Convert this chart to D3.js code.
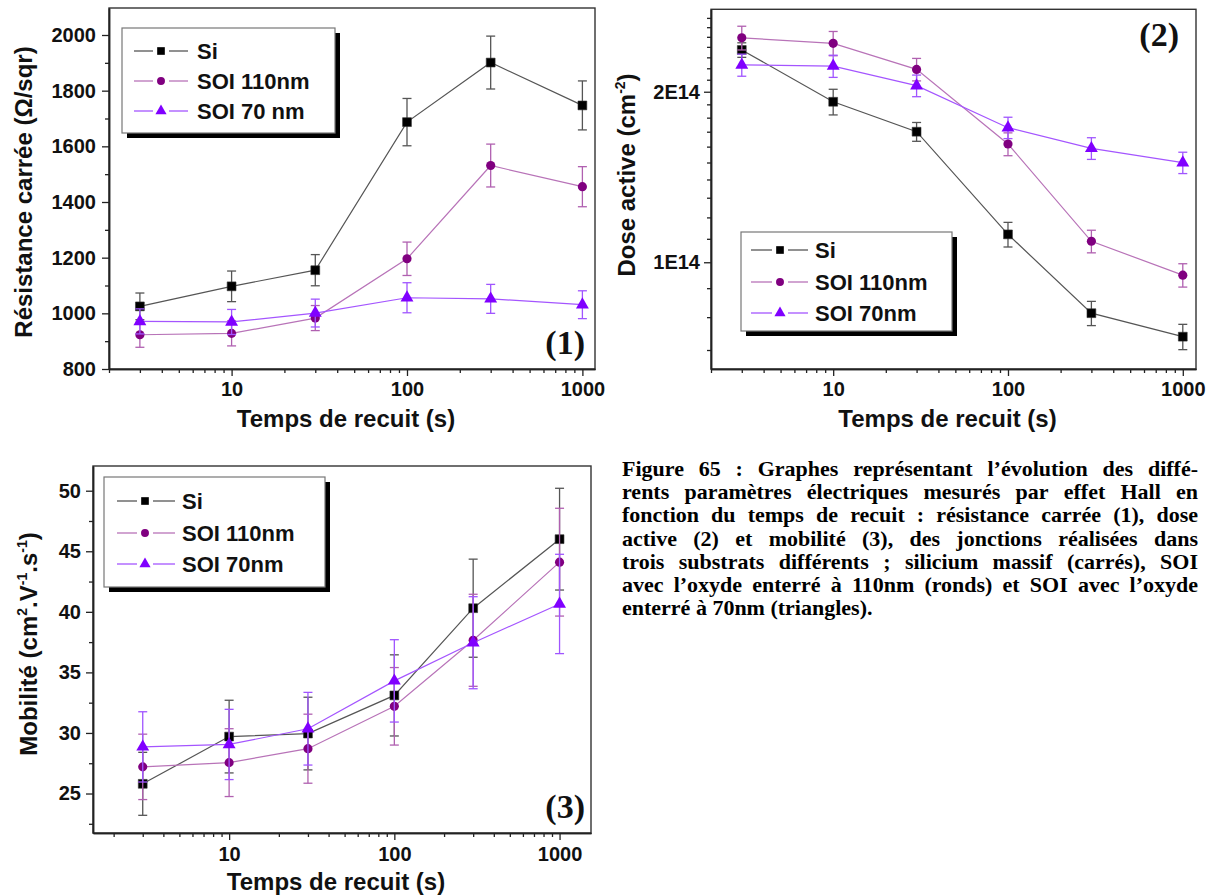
<!DOCTYPE html>
<html><head><meta charset="utf-8">
<script src="https://cdn.jsdelivr.net/npm/d3@7"></script>
<style>body{margin:0;background:#fff;} svg{display:block;}</style>
</head><body>
<svg id="c" width="1215" height="895"></svg>
<script>
// ---------------- DATA ----------------
const times = [3, 10, 30, 100, 300, 1000];
const xMajorTicks = [10, 100, 1000];
const xTickLabels = ["10", "100", "1000"];
const xMinorTicks = [2,3,4,5,6,7,8,9,20,30,40,50,60,70,80,90,200,300,400,500,600,700,800,900];

const legendLabels1 = ["Si", "SOI 110nm", "SOI 70 nm"];
const legendLabels23 = ["Si", "SOI 110nm", "SOI 70nm"];

// Panel 1 : résistance carrée (Ohm/sqr)
const rsSi = [1025, 1097, 1155, 1687, 1901, 1747];
const rsSiErr = [48, 55, 56, 85, 95, 88];
const rsSoi110 = [923, 928, 983, 1196, 1531, 1455];
const rsSoi110Err = [45, 45, 45, 60, 77, 72];
const rsSoi70 = [971, 969, 1001, 1056, 1052, 1031];
const rsSoi70Err = [45, 45, 50, 54, 52, 50];
const p1YTicks = [800, 1000, 1200, 1400, 1600, 1800, 2000];
const p1YMinor = [900, 1100, 1300, 1500, 1700, 1900];

// Panel 2 : dose active (cm-2)
const doseSi = [2.37e14, 1.92e14, 1.70e14, 1.12e14, 0.813e14, 0.739e14];
const doseSiErr = [0.07e14, 0.10e14, 0.065e14, 0.056e14, 0.04e14, 0.038e14];
const doseSoi110 = [2.49e14, 2.435e14, 2.19e14, 1.617e14, 1.089e14, 0.949e14];
const doseSoi110Err = [0.12e14, 0.12e14, 0.10e14, 0.075e14, 0.05e14, 0.045e14];
const doseSoi70 = [2.23e14, 2.22e14, 2.05e14, 1.728e14, 1.589e14, 1.499e14];
const doseSoi70Err = [0.10e14, 0.10e14, 0.09e14, 0.075e14, 0.07e14, 0.065e14];
const p2YTicks = [1e14, 2e14];
const p2YTickLabels = ["1E14", "2E14"];
const p2YMinor = [0.7e14,0.8e14,0.9e14,1.1e14,1.2e14,1.3e14,1.4e14,1.5e14,1.6e14,1.7e14,1.8e14,1.9e14,2.1e14,2.2e14,2.3e14,2.4e14,2.5e14,2.6e14,2.7e14];

// Panel 3 : mobilité (cm2.V-1.s-1)
const muSi = [25.8, 29.7, 29.95, 33.1, 40.3, 46.0];
const muSiErr = [2.6, 3.0, 3.0, 3.35, 4.05, 4.2];
const muSoi110 = [27.2, 27.55, 28.7, 32.2, 37.65, 44.1];
const muSoi110Err = [2.7, 2.8, 2.85, 3.2, 3.8, 4.45];
const muSoi70 = [28.85, 29.05, 30.35, 34.3, 37.45, 40.65];
const muSoi70Err = [2.9, 2.9, 3.0, 3.4, 3.8, 4.1];
const p3YTicks = [25, 30, 35, 40, 45, 50];
const p3YMinor = [22.5, 27.5, 32.5, 37.5, 42.5, 47.5];

const captionLines = [
  "Figure 65 : Graphes représentant l’évolution des diffé-",
  "rents paramètres électriques mesurés par effet Hall en",
  "fonction du temps de recuit : résistance carrée (1), dose",
  "active (2) et mobilité (3), des jonctions réalisées dans",
  "trois substrats différents ; silicium massif (carrés), SOI",
  "avec l’oxyde enterré à 110nm (ronds) et SOI avec l’oxyde",
  "enterré à 70nm (triangles)."
];

// ---------------- DRAWING ----------------
const svg = d3.select("#c");
const SANS = "'Liberation Sans', Arial, Helvetica, sans-serif";
const SERIF = "'Liberation Serif', 'Times New Roman', serif";

const styles = [
  {line: "#555555", mark: "#000000", err: "#555555", sym: d3.symbolSquare, size: 78},
  {line: "#b873b8", mark: "#800080", err: "#b060b0", sym: d3.symbolCircle, size: 66},
  {line: "#a455ff", mark: "#8000ff", err: "#a055ff", sym: d3.symbolTriangle, size: 72}
];

function styleAxis(sel, fontSize) {
  sel.select(".domain").attr("stroke", "#222").attr("stroke-width", 1.5);
  sel.selectAll(".tick line").attr("stroke", "#222").attr("stroke-width", 1.3);
  sel.selectAll(".tick text").attr("font-family", SANS).attr("font-weight", "bold")
     .attr("font-size", fontSize).attr("fill", "#111");
}

function panel(cfg) {
  const g = svg.append("g");
  const x = d3.scaleLog().domain(cfg.xDomain).range([cfg.left, cfg.right]);
  const y = (cfg.yLog ? d3.scaleLog() : d3.scaleLinear()).domain(cfg.yDomain).range([cfg.bottom, cfg.top]);

  g.append("rect").attr("x", cfg.left).attr("y", cfg.top)
    .attr("width", cfg.right - cfg.left).attr("height", cfg.bottom - cfg.top)
    .attr("fill", "none").attr("stroke", "#333").attr("stroke-width", 1.4);

  const xm = g.append("g").attr("transform", `translate(0,${cfg.bottom})`)
    .call(d3.axisBottom(x).tickValues(xMinorTicks.filter(v => v >= cfg.xDomain[0] && v <= cfg.xDomain[1]))
      .tickSize(4).tickFormat("").tickSizeOuter(0));
  styleAxis(xm, 20);
  const xa = g.append("g").attr("transform", `translate(0,${cfg.bottom})`)
    .call(d3.axisBottom(x).tickValues(xMajorTicks).tickSize(7).tickPadding(cfg.xPad)
      .tickFormat((d, i) => xTickLabels[i]).tickSizeOuter(0));
  styleAxis(xa, 20);

  const ym = g.append("g").attr("transform", `translate(${cfg.left},0)`)
    .call(d3.axisLeft(y).tickValues(cfg.yMinor).tickSize(4).tickFormat("").tickSizeOuter(0));
  styleAxis(ym, 20);
  const ya = g.append("g").attr("transform", `translate(${cfg.left},0)`)
    .call(d3.axisLeft(y).tickValues(cfg.yTicks).tickSize(7).tickPadding(cfg.yPad)
      .tickFormat((d, i) => cfg.yLabels ? cfg.yLabels[i] : String(d)).tickSizeOuter(0));
  styleAxis(ya, 20);

  g.append("text").attr("x", (cfg.left + cfg.right) / 2 - 6).attr("y", cfg.xTitleY)
    .attr("text-anchor", "middle").attr("font-family", SANS).attr("font-weight", "bold")
    .attr("font-size", 24).attr("fill", "#111").text("Temps de recuit (s)");
  const yt = g.append("text")
    .attr("transform", `translate(${cfg.yTitleX},${cfg.yTitleY}) rotate(-90)`)
    .attr("text-anchor", "middle").attr("font-family", SANS).attr("font-weight", "bold")
    .attr("font-size", 24).attr("fill", "#111");
  cfg.yTitle.forEach(part => {
    const t = yt.append("tspan").text(part.t);
    if (part.sup) t.attr("font-size", 14).attr("dy", -10);
    else if (part.after) t.attr("dy", 10);
  });

  cfg.series.forEach((s, k) => {
    const st = styles[k];
    const pts = times.map((t, i) => ({t, v: s.v[i], e: s.e[i]}));
    const eb = g.append("g").attr("stroke", st.err).attr("stroke-width", 1.3);
    pts.forEach(p => {
      const xx = x(p.t), y1 = y(p.v - p.e), y2 = y(p.v + p.e);
      eb.append("line").attr("x1", xx).attr("x2", xx).attr("y1", y1).attr("y2", y2);
      eb.append("line").attr("x1", xx - 4.5).attr("x2", xx + 4.5).attr("y1", y1).attr("y2", y1);
      eb.append("line").attr("x1", xx - 4.5).attr("x2", xx + 4.5).attr("y1", y2).attr("y2", y2);
    });
    g.append("path").datum(pts)
      .attr("d", d3.line().x(d => x(d.t)).y(d => y(d.v)))
      .attr("fill", "none").attr("stroke", st.line).attr("stroke-width", 1.2);
    g.selectAll(null).data(pts).enter().append("path")
      .attr("transform", d => `translate(${x(d.t)},${y(d.v)})`)
      .attr("d", d3.symbol().type(st.sym).size(st.size))
      .attr("fill", st.mark).attr("stroke", k === 0 ? "#333" : "none").attr("stroke-width", 0.6);
  });

  const L = cfg.legend;
  g.append("rect").attr("x", L.x + 5).attr("y", L.y + 5).attr("width", L.w).attr("height", L.h).attr("fill", "#000");
  g.append("rect").attr("x", L.x).attr("y", L.y).attr("width", L.w).attr("height", L.h)
    .attr("fill", "#fff").attr("stroke", "#777").attr("stroke-width", 1.2);
  cfg.legendLabels.forEach((lab, k) => {
    const st = styles[k];
    const ry = L.rows[k];
    g.append("line").attr("x1", L.lx1).attr("x2", L.mx - 8).attr("y1", ry).attr("y2", ry).attr("stroke", st.line).attr("stroke-width", 1.3);
    g.append("line").attr("x1", L.mx + 8).attr("x2", L.lx2).attr("y1", ry).attr("y2", ry).attr("stroke", st.line).attr("stroke-width", 1.3);
    g.append("path").attr("transform", `translate(${L.mx},${ry})`)
      .attr("d", d3.symbol().type(st.sym).size(st.size * 0.75)).attr("fill", st.mark);
    g.append("text").attr("x", L.tx).attr("y", ry).attr("dy", "0.36em")
      .attr("font-family", SANS).attr("font-weight", "bold").attr("font-size", 22).attr("fill", "#111").text(lab);
  });

  g.append("text").attr("x", cfg.num.x).attr("y", cfg.num.y).attr("text-anchor", "end")
    .attr("font-family", SERIF).attr("font-weight", "bold").attr("font-size", 34).attr("fill", "#111")
    .text(cfg.num.t);
}

panel({
  left: 109, right: 595, top: 8, bottom: 369,
  xDomain: [2, 1180], yDomain: [800, 2097], yLog: false,
  yTicks: p1YTicks, yMinor: p1YMinor, yPad: 6, xPad: 6,
  xTitleY: 427, yTitleX: 32, yTitleY: 192,
  yTitle: [{t: "Résistance carrée (Ω/sqr)"}],
  series: [{v: rsSi, e: rsSiErr}, {v: rsSoi110, e: rsSoi110Err}, {v: rsSoi70, e: rsSoi70Err}],
  legendLabels: legendLabels1,
  legend: {x: 122, y: 28, w: 213, h: 105, rows: [51, 81, 111], lx1: 134, lx2: 188, mx: 161, tx: 197},
  num: {t: "(1)", x: 585, y: 354}
});

panel({
  left: 711, right: 1196, top: 9.3, bottom: 369,
  xDomain: [2, 1190], yDomain: [6.48e13, 2.796e14], yLog: true,
  yTicks: p2YTicks, yLabels: p2YTickLabels, yMinor: p2YMinor, yPad: 4, xPad: 6,
  xTitleY: 427, yTitleX: 635, yTitleY: 175,
  yTitle: [{t: "Dose active (cm"}, {t: "-2", sup: true}, {t: ")", after: true}],
  series: [{v: doseSi, e: doseSiErr}, {v: doseSoi110, e: doseSoi110Err}, {v: doseSoi70, e: doseSoi70Err}],
  legendLabels: legendLabels23,
  legend: {x: 741, y: 232, w: 211, h: 99, rows: [250, 282, 313], lx1: 751, lx2: 808, mx: 780, tx: 815},
  num: {t: "(2)", x: 1179, y: 46}
});

panel({
  left: 93, right: 591, top: 466, bottom: 833,
  xDomain: [1.5, 1550], yDomain: [21.74, 52.04], yLog: false,
  yTicks: p3YTicks, yMinor: p3YMinor, yPad: 5, xPad: 7,
  xTitleY: 890, yTitleX: 37, yTitleY: 644,
  yTitle: [{t: "Mobilité (cm"}, {t: "2", sup: true}, {t: ".V", after: true}, {t: "-1", sup: true},
           {t: ".s", after: true}, {t: "-1", sup: true}, {t: ")", after: true}],
  series: [{v: muSi, e: muSiErr}, {v: muSoi110, e: muSoi110Err}, {v: muSoi70, e: muSoi70Err}],
  legendLabels: legendLabels23,
  legend: {x: 104, y: 477, w: 221, h: 110, rows: [501, 533, 564], lx1: 117, lx2: 175, mx: 145, tx: 182},
  num: {t: "(3)", x: 585, y: 818}
});

// caption (justified)
const capG = svg.append("g").attr("font-family", SERIF).attr("font-weight", "bold")
  .attr("font-size", 22).attr("fill", "#000");
const capL = 622, capR = 1198;
captionLines.forEach((line, i) => {
  const yb = 476 + i * 23.2;
  if (i === captionLines.length - 1) {
    capG.append("text").attr("x", capL).attr("y", yb).text(line);
    return;
  }
  const words = line.split(" ");
  const nodes = words.map(w => capG.append("text").attr("y", yb).text(w));
  const widths = nodes.map(n => n.node().getComputedTextLength());
  const gap = (capR - capL - d3.sum(widths)) / (words.length - 1);
  let xx = capL;
  nodes.forEach((n, j) => { n.attr("x", xx); xx += widths[j] + gap; });
});
</script>
</body></html>
